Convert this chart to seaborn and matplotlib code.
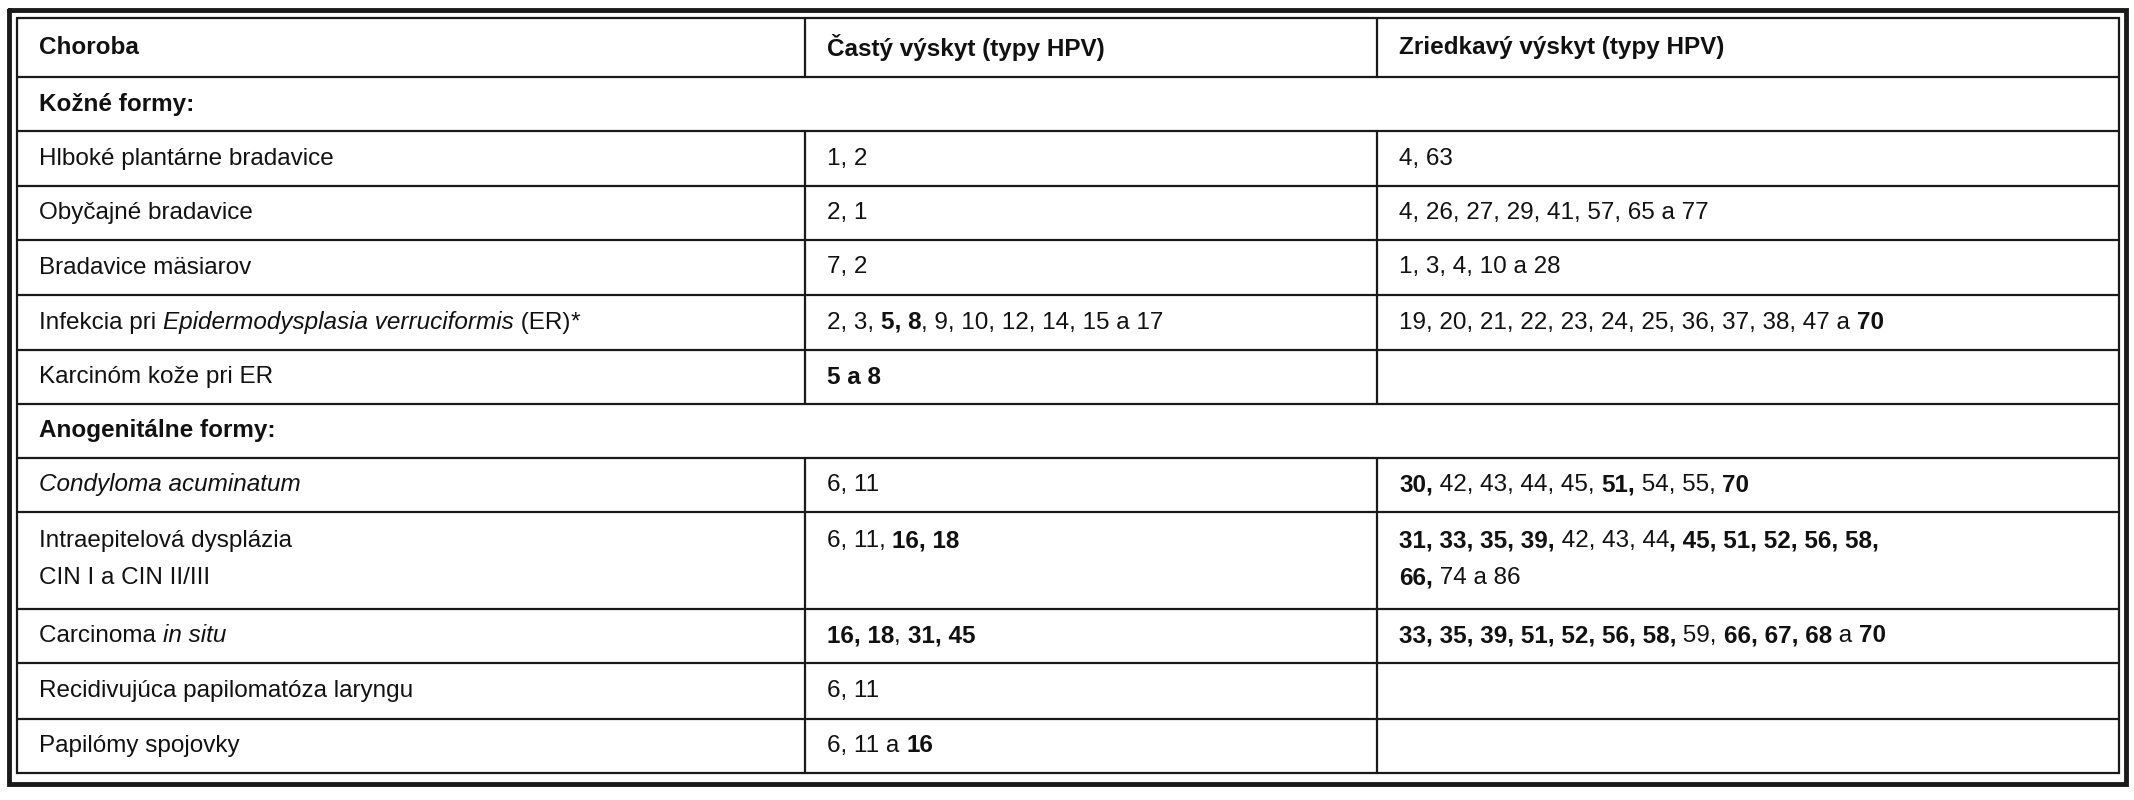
import re
import matplotlib
matplotlib.use("Agg")
import matplotlib.pyplot as plt
import seaborn as sns

sns.set_theme(style="white")
plt.rcParams['font.family'] = ['Liberation Sans', 'DejaVu Sans']

W, H = 2134, 800
col_edges = [17, 805, 1377, 2119]
row_edges = [18, 77, 131, 186, 240, 295, 350, 404, 458, 512, 609, 663, 719, 773]

header = ["**Choroba**", "**Častý výskyt (typy HPV)**", "**Zriedkavý výskyt (typy HPV)**"]
section_rows = {1: "**Kožné formy:**", 7: "**Anogenitálne formy:**"}
diseases = ["Hlboké plantárne bradavice", "Obyčajné bradavice", "Bradavice mäsiarov",
            "Infekcia pri _Epidermodysplasia verruciformis_ (ER)_*_", "Karcinóm kože pri ER",
            "_Condyloma acuminatum_", "Intraepitelová dysplázia\nCIN I a CIN II/III",
            "Carcinoma _in situ_", "Recidivujúca papilomatóza laryngu", "Papilómy spojovky"]
common = ["1, 2", "2, 1", "7, 2", "2, 3, **5, 8**, 9, 10, 12, 14, 15 a 17", "**5 a 8**",
          "6, 11", "6, 11, **16, 18**", "**16, 18**, **31, 45**", "6, 11", "6, 11 a **16**"]
rare = ["4, 63", "4, 26, 27, 29, 41, 57, 65 a 77", "1, 3, 4, 10 a 28",
        "19, 20, 21, 22, 23, 24, 25, 36, 37, 38, 47 a **70**", "",
        "**30,** 42, 43, 44, 45, **51,** 54, 55, **70**",
        "**31, 33, 35, 39,** 42, 43, 44**, 45, 51, 52, 56, 58,**\n**66,** 74 a 86",
        "**33, 35, 39, 51, 52, 56, 58,** 59, **66, 67, 68** a **70**", "", ""]

fig = plt.figure(figsize=(W / 100, H / 100), dpi=100)
ax = fig.add_axes([0, 0, 1, 1])
ax.set_xlim(0, W)
ax.set_ylim(H, 0)
ax.axis('off')
fig.canvas.draw()
renderer = fig.canvas.get_renderer()

LC = '#1a1a1a'
FS = 17.5

def rich(x, y, s):
    for k, line in enumerate(s.split("\n")):
        cx = x
        yy = y + k * 37
        for part in re.split(r"(\*\*.*?\*\*|_.*?_)", line):
            if not part:
                continue
            weight, style = 'normal', 'normal'
            if part.startswith("**"):
                part, weight = part[2:-2], 'bold'
            elif part.startswith("_"):
                part, style = part[1:-1], 'italic'
            t = ax.text(cx, yy, part, fontsize=FS, fontweight=weight, fontstyle=style,
                        va='center', ha='left', color='#111')
            bb = t.get_window_extent(renderer)
            cx += bb.width

# borders
ax.plot([9, 2126, 2126, 9, 9], [10, 10, 784, 784, 10], color=LC, lw=3.5, solid_joinstyle='miter')
ax.plot([17, 2119, 2119, 17, 17], [18, 18, 773, 773, 18], color=LC, lw=1.6, solid_joinstyle='miter')
for y in row_edges[1:-1]:
    ax.plot([17, 2119], [y, y], color=LC, lw=1.6)
for xc in col_edges[1:3]:
    for i in range(len(row_edges) - 1):
        if i in section_rows:
            continue
        ax.plot([xc, xc], [row_edges[i], row_edges[i + 1]], color=LC, lw=1.6)

pad = 22
def row_y(i):
    top, bot = row_edges[i], row_edges[i + 1]
    return top + 29 if bot - top > 70 else (top + bot) / 2

for j, h in enumerate(header):
    rich(col_edges[j] + pad, row_y(0), h)
d = 0
for i in range(1, len(row_edges) - 1):
    if i in section_rows:
        rich(col_edges[0] + pad, row_y(i), section_rows[i])
        continue
    for j, s in enumerate([diseases[d], common[d], rare[d]]):
        if s:
            rich(col_edges[j] + pad, row_y(i), s)
    d += 1

fig.savefig("out.png", dpi=100, facecolor='white')
